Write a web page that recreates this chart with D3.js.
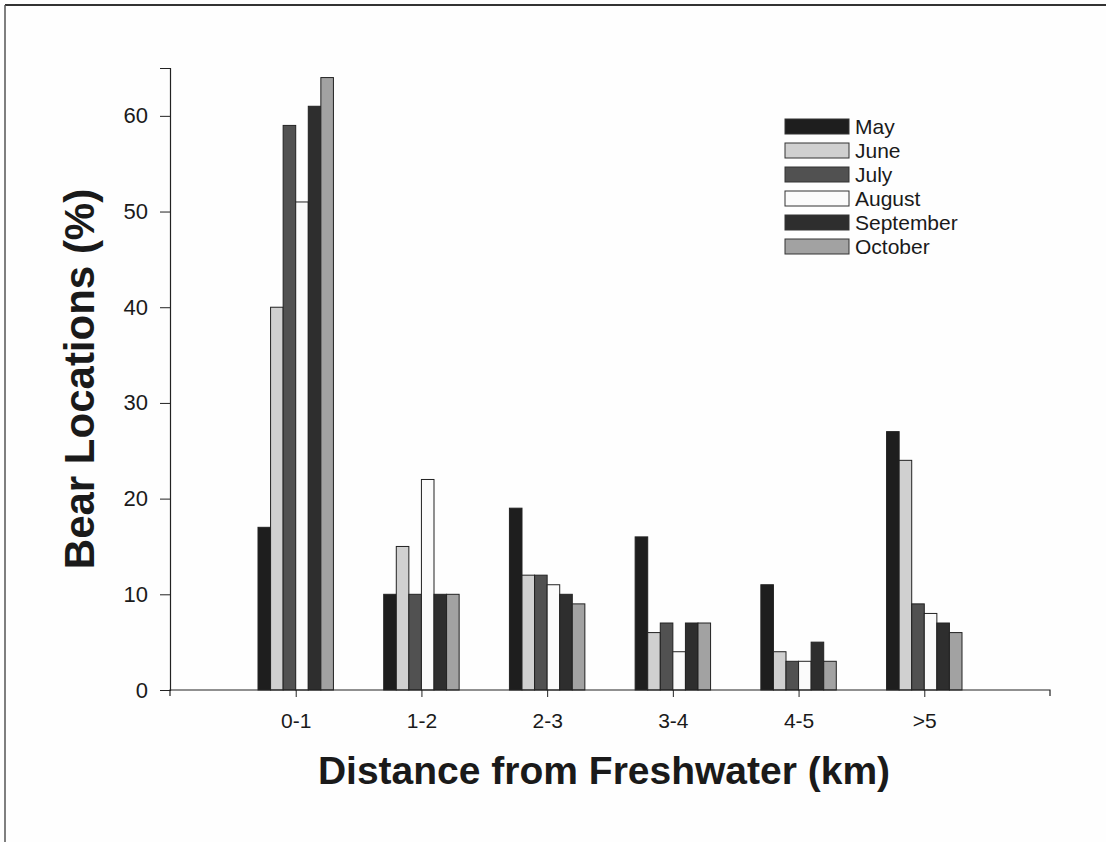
<!DOCTYPE html>
<html><head><meta charset="utf-8">
<script src="https://cdn.jsdelivr.net/npm/d3@7"></script>
<style>body{margin:0;background:#fff}svg{display:block}text{font-family:Arial,"Liberation Sans",sans-serif;fill:#1a1a1a}</style>
</head><body><svg id="c" width="1106" height="842"></svg>
<script>
const categories = ["0-1","1-2","2-3","3-4","4-5",">5"];
const months = ["May","June","July","August","September","October"];
const may = [17,10,19,16,11,27];
const june = [40,15,12,6,4,24];
const july = [59,10,12,7,3,9];
const august = [51,22,11,4,3,8];
const september = [61,10,10,7,5,7];
const october = [64,10,9,7,3,6];
const yTicks = [0,10,20,30,40,50,60];
const series = [may,june,july,august,september,october];
const fills = ["#1e1e1e","#d0d0d0","#515151","#fbfbfb","#2e2e2e","#a2a2a2"];

const svg = d3.select("#c");
svg.append("rect").attr("width",1106).attr("height",842).attr("fill","#fefefe");
// scan frame
svg.append("line").attr("x1",5).attr("x2",1106).attr("y1",5).attr("y2",5).attr("stroke","#333").attr("stroke-width",2);
svg.append("line").attr("x1",5).attr("x2",5).attr("y1",5).attr("y2",842).attr("stroke","#555").attr("stroke-width",1.5);

const x0 = 170, x1 = 1050, y0 = 690;
const x = d3.scaleLinear().domain([0,7]).range([x0,x1]);
const y = d3.scaleLinear().domain([0,65]).range([y0,68]);
const step = x(1)-x(0);
const inner = d3.scaleBand().domain(months).range([-step*0.3, step*0.3]).padding(0);

// bars
categories.forEach((c,i)=>{
  const g = svg.append("g").attr("transform",`translate(${x(i+1)},0)`);
  months.forEach((m,j)=>{
    const v = series[j][i];
    g.append("rect").attr("x",inner(m)).attr("width",inner.bandwidth())
      .attr("y",y(v)).attr("height",y(0)-y(v))
      .attr("fill",fills[j]).attr("stroke","#222").attr("stroke-width",1);
  });
});

const font = "Arial, 'Liberation Sans', sans-serif";
// y axis
const yAxis = d3.axisLeft(y).tickValues(yTicks).tickSize(10).tickPadding(12).tickFormat(d3.format("d"));
const ya = svg.append("g").attr("transform",`translate(${x0},0)`).call(yAxis);
ya.select(".domain").attr("stroke","#222").attr("stroke-width",1.2);
ya.selectAll(".tick line").attr("stroke","#222");
ya.selectAll("text").attr("font-size",22).attr("fill","#1a1a1a").attr("font-family",font);

// x axis
const xAxis = d3.axisBottom(x).tickValues([1,2,3,4,5,6]).tickSize(7).tickPadding(16).tickFormat(d=>categories[d-1]);
const xa = svg.append("g").attr("transform",`translate(0,${y0})`).call(xAxis);
xa.select(".domain").attr("stroke","#222").attr("stroke-width",1.2).attr("d",`M${x0},6V0H${x1}V6`);
xa.selectAll(".tick line").attr("stroke","#222");
xa.selectAll("text").attr("font-size",21).attr("fill","#1a1a1a").attr("font-family",font);

// axis titles
svg.append("text").attr("x",604).attr("y",784).attr("text-anchor","middle")
  .attr("font-size",39).attr("font-weight","bold").text("Distance from Freshwater (km)");
svg.append("text").attr("transform","translate(94,379) rotate(-90)").attr("text-anchor","middle")
  .attr("font-size",42).attr("font-weight","bold").text("Bear Locations (%)");

// legend
const lg = svg.append("g").attr("transform","translate(785,119)");
months.forEach((m,j)=>{
  const r = lg.append("g").attr("transform",`translate(0,${j*24})`);
  r.append("rect").attr("width",64).attr("height",15).attr("fill",fills[j]).attr("stroke","#333").attr("stroke-width",1);
  r.append("text").attr("x",70).attr("y",15).attr("font-size",21).text(m);
});
</script></body></html>
